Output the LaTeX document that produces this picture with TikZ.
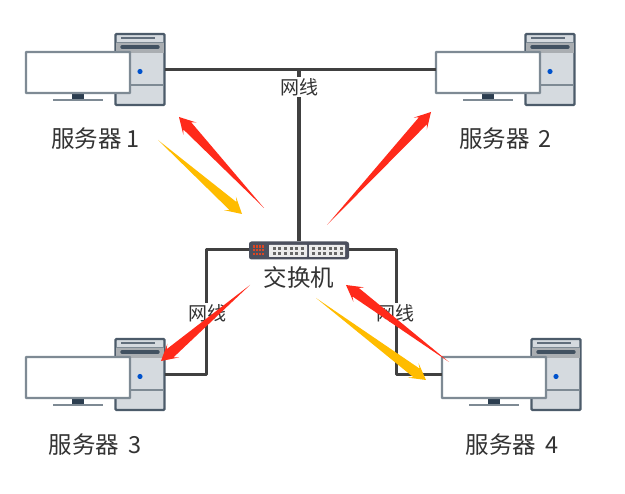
\documentclass[tikz,border=0pt]{standalone}
\usepackage{fontspec}
\setmainfont{Noto Sans CJK SC}
\usetikzlibrary{calc}
\definecolor{wire}{HTML}{404040}
\definecolor{rimg}{HTML}{7E8A94}
\definecolor{navy}{HTML}{2C3E50}
\definecolor{towerbg}{HTML}{D5DADF}
\definecolor{arred}{HTML}{FF2A1A}
\definecolor{aryel}{HTML}{FFBC00}
\definecolor{txt}{HTML}{333333}
\definecolor{swbody}{HTML}{4C505E}
\tikzset{
  x=1pt,y=-1pt,
  wireline/.style={draw=wire,line width=3pt,line join=round},
  towerbox/.style={draw=navy!85!white,fill=towerbg,line width=2.3pt,rounded corners=1pt,minimum width=49pt,minimum height=71pt,inner sep=0pt,outer sep=0pt},
  screen/.style={draw=rimg,fill=white,line width=2.2pt,rounded corners=.5pt,minimum width=104pt,minimum height=41pt,inner sep=0pt,outer sep=0pt},
  caption/.style={font=\fontsize{23.5}{26}\selectfont,text=txt,inner sep=0pt},
  wirelabel/.style={font=\fontsize{19}{21}\selectfont,text=txt,fill=white,inner sep=1pt},
  switchbox/.style={fill=swbody,draw=none,rounded corners=2.5pt,minimum width=100pt,minimum height=18pt,inner sep=0pt,outer sep=0pt},
}
% #1 name, #2 x offset, #3 y offset
\newcommand{\computer}[3]{%
  \begin{scope}[shift={(#2,#3)}]
    \node[towerbox] (#1t) at (140,69.5) {};
    \fill[black!20!towerbg] (116,43) rectangle (164,53);
    \draw[rimg,line width=1pt] (116,42.5) -- (164,42.5);
    \draw[navy!75!white,line width=1.4pt] (121,38) -- (155,38);
    \draw[navy!90!white,line width=3.4pt,line cap=round] (122,47) -- (158,47);
    \draw[rimg,line width=1.2pt] (116,85) -- (164,85);
    \fill[blue!60!cyan!80!black] (140,71.5) circle (2.6pt);
    \fill[navy] (72,93) rectangle (84,100);
    \fill[rimg] (53,99) rectangle (103,101.5);
    \node[screen] (#1m) at (78,72.5) {};
  \end{scope}}
% #1 colour, #2 tail, #3 tip
\newcommand{\fatarrow}[3]{%
  \fill[#1] (#2)
    -- ($(#3)!12pt!(#2)!5.3pt!90:(#2)$)
    -- ($(#3)!16pt!(#2)!9pt!90:(#2)$)
    -- (#3)
    -- ($(#3)!16pt!(#2)!9pt!-90:(#2)$)
    -- ($(#3)!12pt!(#2)!5.3pt!-90:(#2)$)
    -- cycle;}
\begin{document}
\begin{tikzpicture}
\useasboundingbox (0,0) rectangle (625,494);
\fill[white] (0,0) rectangle (625,494);

% switch position
\node[switchbox] (sw) at (299,250.5) {};

\computer{a}{0}{0}
\computer{b}{410}{0}
\computer{c}{0}{305}
\computer{d}{416}{305}

% wires
\coordinate (hub) at (299,70);
\draw[wireline] (at.east |- 0,70) -- (bm.west |- 0,70);
\draw[wireline,line width=3.6pt] (sw.north) -- (hub);
\draw[wireline] (sw.west |- 0,250) -| (206,375) -- (ct.east |- 0,375);
\draw[wireline] (sw.east |- 0,250) -| (396,375) -- (dm.west |- 0,375);

% switch details
\fill[white!85!gray,rounded corners=.5pt] (269,245) rectangle (307,257);
\fill[white!85!gray,rounded corners=.5pt] (309,245) rectangle (345,257);
\foreach \i in {0,...,5}{
  \fill[black!60] (272.5+5.7*\i,246.8) rectangle +(3,3.4);
  \fill[black!60] (272.5+5.7*\i,251.8) rectangle +(3,3.4);
  \fill[black!60] (312+5.5*\i,246.8) rectangle +(3,3.4);
  \fill[black!60] (312+5.5*\i,251.8) rectangle +(3,3.4);
}
\foreach \i in {0,...,3}\foreach \j in {0,...,2}{
  \fill[red!45!brown] (253+3*\i,245.5+3.6*\j) rectangle +(2,2.4);
}

% labels
\node[wirelabel] (l1) at (299,87) {网线};
\node[wirelabel] (l2) at (207,313) {网线};
\node[wirelabel] (l3) at (395,313) {网线};
\node[caption] (n1) at (95.5,139) {服务器 1};
\node[caption] (n2) at (505.5,139) {服务器\hspace{9pt}2};
\node[caption] (n3) at (95,445) {服务器\hspace{9pt}3};
\node[caption] (n4) at (512,445) {服务器\hspace{9pt}4};
\node[caption] (n5) at (299,277) {交换机};

% arrows
\coordinate (r1a) at (264,208); \coordinate (r1b) at (179,117);
\coordinate (y1a) at (158,140); \coordinate (y1b) at (242,214);
\coordinate (r2a) at (327,225); \coordinate (r2b) at (431,112);
\coordinate (r3a) at (250,285); \coordinate (r3b) at (161,361);
\coordinate (r4a) at (449,362); \coordinate (r4b) at (346,285);
\coordinate (y4a) at (316,298); \coordinate (y4b) at (426,380);
\fatarrow{arred}{r1a}{r1b}
\fatarrow{aryel}{y1a}{y1b}
\fatarrow{arred}{r2a}{r2b}
\fatarrow{arred}{r3a}{r3b}
\fatarrow{arred}{r4a}{r4b}
\fatarrow{aryel}{y4a}{y4b}
\end{tikzpicture}
\end{document}
